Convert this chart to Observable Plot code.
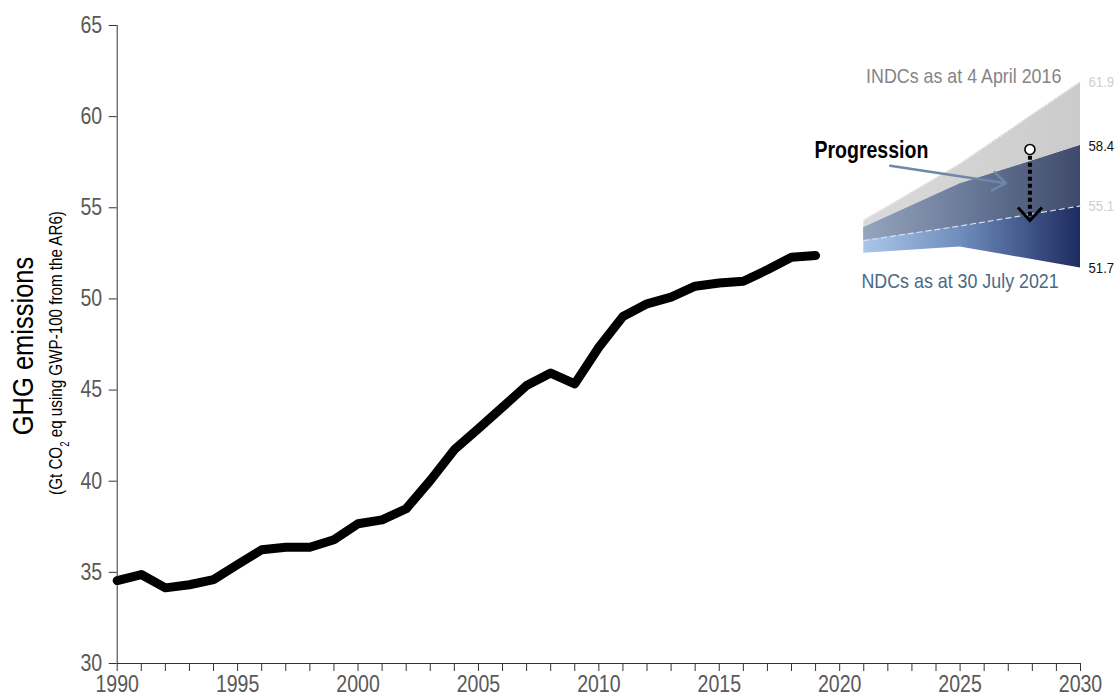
<!DOCTYPE html>
<html>
<head>
<meta charset="utf-8">
<script src="https://cdn.jsdelivr.net/npm/d3@7"></script>
<script src="https://cdn.jsdelivr.net/npm/@observablehq/plot@0.6"></script>
<style>
  html, body { margin: 0; padding: 0; background: #fff; }
  #chart svg { display: block; }
</style>
</head>
<body>
<div id="chart"></div>
<script>
// Historical emissions (Gt CO2 eq)
const years = [1990,1991,1992,1993,1994,1995,1996,1997,1998,1999,2000,2001,2002,2003,2004,2005,2006,2007,2008,2009,2010,2011,2012,2013,2014,2015,2016,2017,2018,2019];
const emissions = [34.55,34.88,34.15,34.32,34.6,35.43,36.24,36.38,36.38,36.79,37.67,37.88,38.49,40.04,41.73,42.88,44.06,45.25,45.93,45.34,47.35,49.04,49.73,50.1,50.7,50.87,50.97,51.6,52.29,52.38];

// Projection ranges
const projYears = [2021, 2025, 2030];
const indcHigh = [54.3, 57.4, 61.9];
const indcLow  = [53.2, 54.0, 55.1];
const ndcHigh  = [53.9, 56.3, 58.4];
const ndcLow   = [52.5, 52.85, 51.7];

// End labels
const endLabels = ["61.9", "58.4", "55.1", "51.7"];
const endValues = [61.9, 58.4, 55.1, 51.7];
const endSeries = ["INDC", "NDC", "INDC", "NDC"];

// Axis ticks
const yTicks = [30, 35, 40, 45, 50, 55, 60, 65];
const xMajorTicks = [1990, 1995, 2000, 2005, 2010, 2015, 2020, 2025, 2030];
const xMinorTicks = d3.range(1990, 2031);

// Annotations
const bandTitles = ["INDCs as at 4 April 2016", "NDCs as at 30 July 2021"];
const bandTitleX = [2025.15, 2025.0];
const bandTitleY = [62.2, 50.95];
const progressionLabel = "Progression";
const progressionAt = {x: 2018.95, y: 58.15};
const progressionArrow = {x1: 2022.1, y1: 57.3, x2: 2026.9, y2: 56.35};
const dropStart = {x: 2027.9, y: 58.2};
const dropEnd = {x: 2027.9, y: 54.3};

const hist = years.map((y, i) => ({year: y, value: emissions[i]}));
const proj = projYears.map((y, i) => ({year: y, indcHigh: indcHigh[i], indcLow: indcLow[i], ndcHigh: ndcHigh[i], ndcLow: ndcLow[i]}));
const ends = endLabels.map((t, i) => ({label: t, value: endValues[i], series: endSeries[i]}));
const titles = bandTitles.map((t, i) => ({label: t, x: bandTitleX[i], y: bandTitleY[i]}));

const FONT = "'Liberation Sans', Arial, sans-serif";
const NARROW = 0.85; // horizontal compression to imitate Arial Narrow

const chevron = {
  draw(context) {
    context.moveTo(-12, -13);
    context.lineTo(0, 0);
    context.lineTo(12, -13);
  }
};

const plot = Plot.plot({
  width: 1118,
  height: 698,
  marginLeft: 116.7,
  marginRight: 38,
  marginTop: 25,
  marginBottom: 35,
  style: {fontFamily: FONT, background: "#fff", overflow: "visible"},
  x: {domain: [1990, 2030], axis: null},
  y: {domain: [30, 65], axis: null},
  marks: [
    // bands
    Plot.areaY(proj, {x: "year", y1: "indcLow", y2: "indcHigh", fill: "url(#gIndc)"}),
    Plot.areaY(proj, {x: "year", y1: "ndcLow", y2: "ndcHigh", fill: "url(#gNdc)"}),
    Plot.areaY(proj, {x: "year", y1: "indcLow", y2: "ndcHigh", fill: "url(#gOverlap)"}),
    Plot.lineY(proj, {x: "year", y: "indcLow", stroke: "#d8e0ee", strokeWidth: 1.2, strokeDasharray: "5,4"}),
    Plot.lineY(proj, {x: "year", y: "indcHigh", stroke: "#ececec", strokeWidth: 1, strokeDasharray: "2,2"}),
    // axes
    Plot.axisX({ticks: xMinorTicks, tickSize: 8, tickFormat: () => "", stroke: "#333"}),
    Plot.axisX({ticks: xMajorTicks, tickSize: 0, tickPadding: 12, tickFormat: "d", fontSize: 23, fill: "#595959"}),
    Plot.axisY({ticks: yTicks, tickSize: 8, tickPadding: 7, tickFormat: "d", fontSize: 23, fill: "#595959", stroke: "#333"}),
    Plot.ruleX([1990], {stroke: "#333"}),
    Plot.ruleY([30], {stroke: "#333"}),
    // history
    Plot.lineY(hist, {x: "year", y: "value", stroke: "#000", strokeWidth: 9, strokeLinejoin: "round", strokeLinecap: "round"}),
    // end labels
    Plot.text(ends, {x: () => 2030, y: "value", text: "label", textAnchor: "start", dx: 8, fontSize: 15.5,
      fill: d => d.series === "INDC" ? "#cfcfcf" : "#111"}),
    // band titles
    Plot.text(titles, {x: "x", y: "y", text: "label", fontSize: 21,
      fill: d => d.label.startsWith("INDC") ? "#858585" : "#4a6a84"}),
    // progression
    Plot.text([progressionAt], {x: "x", y: "y", text: () => progressionLabel, textAnchor: "start", fontSize: 23, fontWeight: "bold", fill: "#000"}),
    Plot.arrow([progressionArrow], {x1: "x1", y1: "y1", x2: "x2", y2: "y2", stroke: "#6e88a8", strokeWidth: 2.5, headLength: 9.5, headAngle: 72, bend: false}),
    Plot.link([{x1: dropStart.x, y1: dropStart.y - 0.35, x2: dropEnd.x, y2: dropEnd.y + 0.25}], {x1: "x1", y1: "y1", x2: "x2", y2: "y2", stroke: "#000", strokeWidth: 4, strokeDasharray: "4,3"}),
    Plot.dot([dropEnd], {x: "x", y: "y", symbol: chevron, fill: "none", stroke: "#000", strokeWidth: 3}),
    Plot.dot([dropStart], {x: "x", y: "y", r: 5, fill: "#fff", stroke: "#000", strokeWidth: 1.6})
  ]
});

// gradient definitions
const svg = d3.select(plot);
const defs = svg.insert("defs", ":first-child");
function grad(id, stops) {
  const g = defs.append("linearGradient").attr("id", id).attr("x1", "0").attr("x2", "1").attr("y1", "0").attr("y2", "0");
  stops.forEach(([o, c]) => g.append("stop").attr("offset", o).attr("stop-color", c));
}
grad("gIndc", [[0, "#dadada"], [1, "#cbcbcb"]]);
grad("gNdc", [[0, "#aac7ea"], [0.45, "#6f8cbd"], [1, "#1d2b60"]]);
grad("gOverlap", [[0, "#95a5bd"], [0.45, "#6c7c9b"], [1, "#3f4a6b"]]);

// compress all plot text horizontally (narrow face look)
plot.querySelectorAll("text").forEach(t => {
  const tr = t.getAttribute("transform");
  if (tr) {
    t.setAttribute("transform", tr + ` scale(${NARROW},1)`);
  } else {
    const x = +(t.getAttribute("x") || 0), y = +(t.getAttribute("y") || 0);
    t.setAttribute("x", 0); t.setAttribute("y", 0);
    t.setAttribute("transform", `translate(${x},${y}) scale(${NARROW},1)`);
  }
});

// y-axis titles
const yMid = 346;
svg.append("text")
  .attr("transform", `translate(33,${yMid}) rotate(-90) scale(0.88,1)`)
  .attr("text-anchor", "middle")
  .attr("font-family", FONT)
  .attr("font-size", 29)
  .attr("fill", "#000")
  .text("GHG emissions");
const sub = svg.append("text")
  .attr("transform", `translate(62,${yMid + 7}) rotate(-90) scale(0.8,1)`)
  .attr("text-anchor", "middle")
  .attr("font-family", FONT)
  .attr("font-size", 19)
  .attr("fill", "#000");
sub.append("tspan").text("(Gt CO");
sub.append("tspan").attr("baseline-shift", "sub").attr("font-size", 12).text("2");
sub.append("tspan").text(" eq using GWP-100 from the AR6)");

document.getElementById("chart").appendChild(plot);
</script>
</body>
</html>
